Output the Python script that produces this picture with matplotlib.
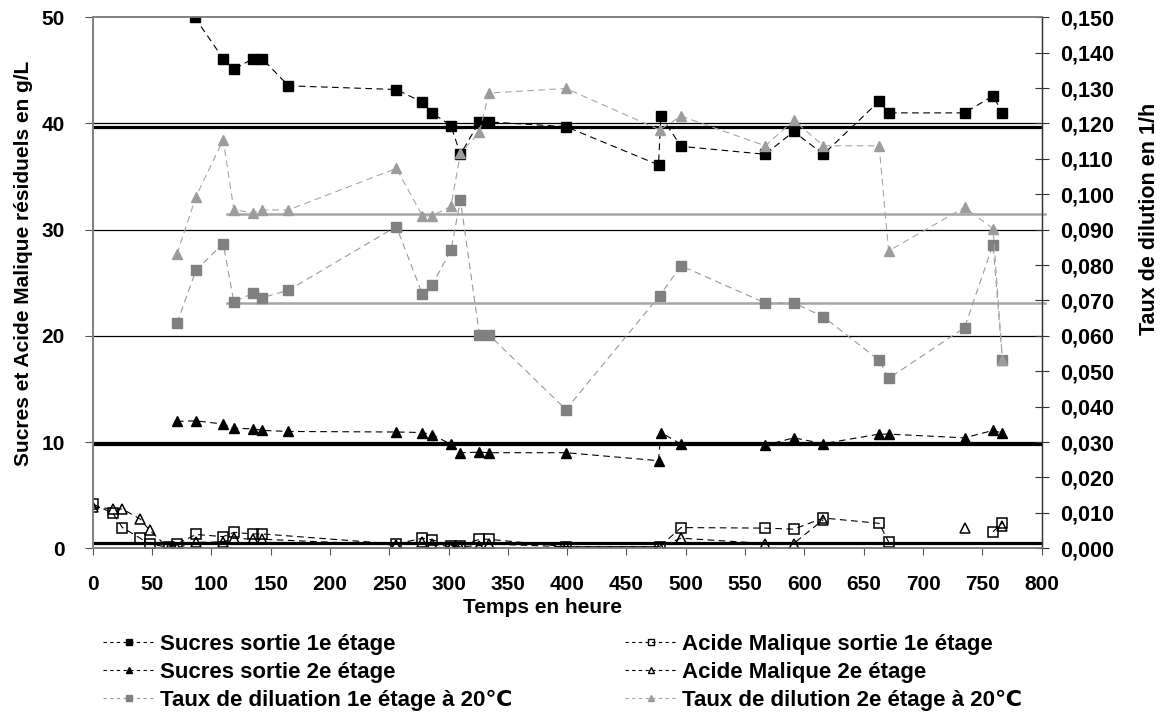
import numpy as np
from matplotlib import pyplot as plt
from matplotlib.lines import Line2D
from matplotlib.ticker import FuncFormatter, MultipleLocator

plt.rcParams['font.family'] = ['Liberation Sans', 'DejaVu Sans']
plt.rcParams['font.weight'] = 'bold'
plt.rcParams['font.size'] = 15

# Data
t_sucres1 = [86, 110, 119, 135, 143, 165, 256, 278, 286, 302, 310, 326, 334, 399,
             477, 479, 496, 567, 591, 616, 663, 671, 735, 759, 767]
sucres1 = [50.0, 46.1, 45.1, 46.1, 46.1, 43.55, 43.2, 42.0, 41.0, 39.8, 37.1, 40.15, 40.15, 39.7,
           36.1, 40.7, 37.85, 37.1, 39.25, 37.1, 42.1, 41.0, 41.0, 42.6, 41.0]

t_sucres2 = [71, 87, 110, 119, 135, 143, 165, 256, 278, 286, 302, 310, 326, 334, 399,
             477, 479, 496, 567, 591, 616, 663, 671, 735, 759, 767]
sucres2 = [11.95, 12.0, 11.7, 11.3, 11.25, 11.1, 11.0, 10.95, 10.9, 10.7, 9.8, 9.0, 9.05, 9.0, 9.0,
           8.25, 10.9, 9.8, 9.7, 10.4, 9.85, 10.75, 10.75, 10.4, 11.1, 10.85]

t_malique1 = [0.5, 17, 25, 40, 48, 64, 71, 87, 110, 119, 135, 143, 256, 278, 286, 302, 310,
              326, 334, 399, 478, 496, 567, 591, 616, 663, 671, 735, 759, 767]
malique1 = [4.15, 3.3, 1.95, 0.95, 0.4, 0.1, 0.4, 1.3, 1.1, 1.5, 1.35, 1.35, 0.4, 0.95, 0.8, 0.25, 0.25,
            0.85, 0.85, 0.15, 0.15, 1.95, 1.9, 1.8, 2.85, 2.35, 0.6, np.nan, 1.55, 2.4]

t_malique2 = [0.5, 17, 25, 40, 48, 64, 71, 87, 110, 119, 135, 143, 256, 278, 286, 302, 310,
              326, 334, 399, 478, 496, 567, 591, 616, 663, 735, 759, 767]
malique2 = [3.9, 3.7, 3.7, 2.75, 1.7, 0.0, 0.05, 0.55, 0.6, 0.95, 0.85, 0.85, 0.3, 0.55, 0.4, 0.15, 0.15,
            0.25, 0.4, 0.15, 0.15, 0.95, 0.45, 0.45, 2.7, np.nan, 1.9, np.nan, 2.1]

t_taux = [71, 87, 110, 119, 135, 143, 165, 256, 278, 286, 302, 310, 326, 334, 399,
          478, 496, 567, 591, 616, 663, 671, 735, 759, 767]
taux1 = [0.0636, 0.0785, 0.0861, 0.0696, 0.0720, 0.0708, 0.0729, 0.0909, 0.0717, 0.0743, 0.0842,
         0.0984, 0.0603, 0.0603, 0.0392, 0.0714, 0.0798, 0.0693, 0.0693, 0.0654, 0.0531, 0.0480,
         0.0623, 0.0858, 0.0531]
taux2 = [0.0831, 0.0993, 0.1154, 0.0956, 0.0948, 0.0956, 0.0956, 0.1073, 0.0939, 0.0939, 0.0966,
         0.1116, 0.1175, 0.1286, 0.1299, 0.1182, 0.1221, 0.1137, 0.1209, 0.1137, 0.1137, 0.0840,
         0.0963, 0.0903, 0.0531]

# reference levels (thick black lines in g/L, grey lines in 1/h)
niveaux_gl = [39.65, 9.8, 0.47]
niveaux_taux = [0.0943, 0.0693]
debut_taux = 113

labels_col1 = ["Sucres sortie 1e étage", "Sucres sortie 2e étage",
               "Taux de diluation 1e étage à 20℃"]
labels_col2 = ["Acide Malique sortie 1e étage", "Acide Malique 2e étage",
               "Taux de dilution 2e étage à 20℃"]

fig = plt.figure(figsize=(11.65, 7.24), dpi=100)
ax = fig.add_axes([0.0796, 0.2427, 0.8145, 0.7334])
ax2 = ax.twinx()

dash = (0, (6, 4))
ms = 6.5

for y in [10, 20, 30, 40]:
    ax.axhline(y, color='black', lw=0.9, zorder=1)
for y in niveaux_gl:
    ax.axhline(y, color='black', lw=2.3, zorder=1)

s1, = ax.plot(t_sucres1, sucres1, ls=dash, lw=0.8, color='black', marker='s', ms=ms,
              mfc='black', mec='black', zorder=3)
s2, = ax.plot(t_sucres2, sucres2, ls=dash, lw=0.8, color='black', marker='^', ms=ms + 0.5,
              mfc='black', mec='black', zorder=3)
m1, = ax.plot(t_malique1, malique1, ls=dash, lw=0.8, color='black', marker='s', ms=ms,
              mfc='none', mec='black', mew=1.1, zorder=3)
m2, = ax.plot(t_malique2, malique2, ls=dash, lw=0.8, color='black', marker='^', ms=ms + 0.5,
              mfc='none', mec='black', mew=1.1, zorder=3)

for y in niveaux_taux:
    ax2.plot([debut_taux, 803], [y, y], color='#a6a6a6', lw=1.8, zorder=1, clip_on=False)
d1, = ax2.plot(t_taux, taux1, ls=dash, lw=0.8, color='#9a9a9a', marker='s', ms=ms,
               mfc='#808080', mec='#808080', zorder=3)
d2, = ax2.plot(t_taux, taux2, ls=dash, lw=0.8, color='#a6a6a6', marker='^', ms=ms + 0.5,
               mfc='#9c9c9c', mec='#9c9c9c', zorder=3)

ax.set_xlim(0, 800)
ax.set_ylim(0, 50)
ax2.set_ylim(0, 0.15)
ax.xaxis.set_major_locator(MultipleLocator(50))
ax.yaxis.set_major_locator(MultipleLocator(10))
ax2.yaxis.set_major_locator(MultipleLocator(0.01))
ax2.yaxis.set_major_formatter(FuncFormatter(lambda v, p: ("%.3f" % v).replace('.', ',')))

ax.tick_params(axis='x', direction='out', length=5, width=0.8, pad=14, color='#555555')
ax.tick_params(axis='y', direction='out', length=6, width=0.8, pad=14, color='#555555')
ax2.tick_params(axis='y', direction='inout', length=10, width=0.8, pad=8, color='#333333',
                labelsize=15.5)

for a in (ax, ax2):
    for side in ['left', 'top', 'bottom']:
        a.spines[side].set_color('#808080')
        a.spines[side].set_linewidth(1.2)
    a.spines['right'].set_color('#333333')
    a.spines['right'].set_linewidth(0.9)

ax.set_xlabel("Temps en heure", fontweight='bold', va='center')
ax.xaxis.set_label_coords(0.474, -0.112)
ax.set_ylabel("Sucres et Acide Malique résiduels en g/L", fontweight='bold')
ax.yaxis.set_label_coords(-0.073, 0.536)
ax.yaxis.label.set_va('center')
ax2.set_ylabel("Taux de dilution en 1/h", fontweight='bold', fontsize=15.5)
ax2.yaxis.set_label_coords(1.114, 0.621)
ax2.yaxis.label.set_va('center')


def legend_handle(h):
    return Line2D([], [], ls=(0, (3, 3)), lw=0.8, color=h.get_color(),
                  marker=h.get_marker(), ms=4.5, mfc=h.get_markerfacecolor(),
                  mec=h.get_markeredgecolor())


opts = dict(loc='upper left', frameon=False, borderpad=0, borderaxespad=0,
            handlelength=2.35, handletextpad=0.22, labelspacing=0.3, numpoints=1,
            prop={'weight': 'bold', 'size': 16})
fig.legend([legend_handle(h) for h in (s1, s2, d1)], labels_col1,
           bbox_to_anchor=(103 / 1165, 0.124), **opts)
fig.legend([legend_handle(h) for h in (m1, m2, d2)], labels_col2,
           bbox_to_anchor=(625 / 1165, 0.124), **opts)

fig.savefig("out.png", dpi=100)
